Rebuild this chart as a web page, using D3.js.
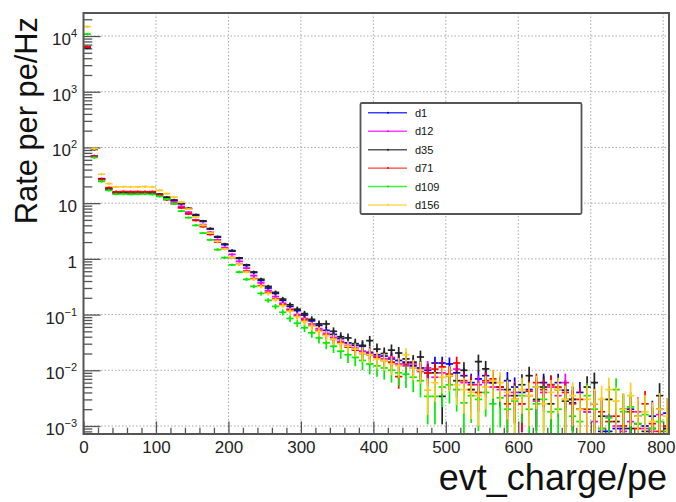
<!DOCTYPE html>
<html>
<head>
<meta charset="utf-8">
<script src="https://cdn.jsdelivr.net/npm/d3@7"></script>
<style>
  html, body { margin: 0; padding: 0; background: #fff; }
  svg { display: block; font-family: "Liberation Sans", Arial, Helvetica, sans-serif; }
</style>
</head>
<body>
<svg id="chart" width="676" height="502"></svg>
<script>
// Histogram binning of evt_charge (pe): 81 bins of 10 pe starting at 0
const binWidth = 10;
const binStarts = d3.range(0, 810, binWidth);

// Rate per pe per Hz, one value per bin
const d1 = [6200, 70, 27, 18, 15.3, 15.2, 15.4, 15.3, 15.1, 15.3,
  14.3, 12.5, 11.2, 9.8, 7.9, 6.0, 4.7, 3.46, 2.45, 1.8,
  1.41, 1.02, 0.76, 0.57, 0.41, 0.30, 0.24, 0.18, 0.14, 0.118,
  0.098, 0.077, 0.064, 0.052, 0.044, 0.037, 0.031, 0.028, 0.027, 0.021,
  0.019, 0.018, 0.016, 0.015, 0.014, 0.012, 0.011, 0.010, 0.0135, 0.0135,
  0.013, 0.009, 0.008, 0.006, 0.007, 0.008, 0.006, 0.005, 0.0065, 0.005,
  0.004, 0.0045, 0.005, 0.006, 0.0055, 0.006, 0.0044, 0.0026, 0.004, 0.0018,
  0.0025, 0.0008, 0.0008, 0.0009, 0.0009, 0.002, 0.0015, 0.001, 0.0015, 0.002, 0.0017];

const d12 = [6300, 70, 27.5, 18.5, 16, 15.8, 16.1, 15.9, 16, 15.8,
  14.0, 12.0, 10.5, 8.8, 6.9, 5.0, 4.1, 3.0, 2.2, 1.6,
  1.2, 0.9, 0.68, 0.5, 0.37, 0.27, 0.21, 0.16, 0.125, 0.1,
  0.085, 0.068, 0.056, 0.046, 0.039, 0.033, 0.028, 0.025, 0.022, 0.02,
  0.018, 0.016, 0.017, 0.013, 0.012, 0.013, 0.0095, 0.011, 0.0075, 0.009,
  0.0085, 0.0105, 0.006, 0.0045, 0.0055, 0.006, 0.005, 0.0045, 0.0035, 0.004,
  0.0025, 0.0035, 0.0028, 0.004, 0.005, 0.0035, 0.006, 0.003, 0.002, 0.0018,
  0.0012, 0.0009, 0.0015, 0.001, 0.0008, 0.0012, 0.0018, 0.0009, 0.0008, 0.0016, 0.0009];

const d35 = [6100, 92, 27, 18, 15.1, 15.3, 15.2, 15.0, 15.3, 15.2,
  14.5, 12.8, 11.4, 9.9, 8.1, 6.2, 4.8, 3.5, 2.5, 1.85,
  1.38, 1.04, 0.78, 0.58, 0.43, 0.32, 0.25, 0.19, 0.15, 0.125,
  0.104, 0.082, 0.068, 0.068, 0.05, 0.04, 0.038, 0.03, 0.028, 0.034,
  0.024, 0.02, 0.023, 0.0204, 0.016, 0.014, 0.0173, 0.009, 0.009, 0.0034,
  0.008, 0.0065, 0.01, 0.0045, 0.0143, 0.0106, 0.006, 0.005, 0.0045, 0.0035,
  0.0055, 0.008, 0.003, 0.005, 0.0025, 0.0045, 0.0028, 0.003, 0.002, 0.005,
  0.006, 0.0015, 0.003, 0.0012, 0.002, 0.0009, 0.0011, 0.0008, 0.0009, 0.0035, 0.0009];

const d71 = [6400, 69, 26.5, 19, 16, 16.2, 15.9, 16.1, 16, 16.1,
  14.0, 11.5, 9.8, 8.2, 6.4, 4.9, 3.8, 2.75, 2.0, 1.5,
  1.05, 0.8, 0.6, 0.44, 0.33, 0.25, 0.19, 0.15, 0.12, 0.095,
  0.08, 0.063, 0.052, 0.043, 0.036, 0.031, 0.026, 0.023, 0.02, 0.019,
  0.017, 0.015, 0.014, 0.0077, 0.013, 0.011, 0.01, 0.009, 0.0105, 0.0115,
  0.0085, 0.0135, 0.0065, 0.0055, 0.004, 0.0065, 0.007, 0.005, 0.0025, 0.003,
  0.0025, 0.0042, 0.006, 0.0045, 0.0055, 0.005, 0.004, 0.0025, 0.003, 0.002,
  0.0025, 0.0018, 0.0012, 0.0015, 0.001, 0.0018, 0.0009, 0.0025, 0.0011, 0.0008, 0.001];

const d109 = [10800, 66, 24.5, 17, 14.5, 14.6, 14.4, 14.5, 14.6, 14.4,
  13.2, 11.8, 9.8, 7.2, 5.5, 4.0, 2.9, 2.2, 1.47, 1.05,
  0.78, 0.58, 0.43, 0.32, 0.24, 0.18, 0.14, 0.11, 0.085, 0.07,
  0.058, 0.047, 0.038, 0.031, 0.027, 0.022, 0.019, 0.017, 0.015, 0.013,
  0.012, 0.011, 0.01, 0.009, 0.0085, 0.0075, 0.0065, 0.0034, 0.0034, 0.005,
  0.0055, 0.0045, 0.0026, 0.0035, 0.003, 0.004, 0.0025, 0.0032, 0.002, 0.0028,
  0.0035, 0.002, 0.0025, 0.003, 0.0018, 0.002, 0.003, 0.0015, 0.0012, 0.0035,
  0.002, 0.0009, 0.0014, 0.0045, 0.0018, 0.0022, 0.0011, 0.0016, 0.0009, 0.0012, 0.0008];

const d156 = [14700, 95, 33, 22.5, 19.6, 19.7, 19.5, 19.6, 19.8, 19.5,
  17, 14.8, 12.8, 10.4, 7.8, 5.6, 4.0, 2.9, 2.05, 1.5,
  1.05, 0.8, 0.58, 0.43, 0.32, 0.24, 0.185, 0.145, 0.115, 0.092,
  0.075, 0.062, 0.05, 0.042, 0.036, 0.03, 0.027, 0.024, 0.02, 0.019,
  0.016, 0.015, 0.013, 0.012, 0.019, 0.011, 0.01, 0.0044, 0.006, 0.0075,
  0.008, 0.0055, 0.0045, 0.004, 0.0035, 0.005, 0.0065, 0.006, 0.004, 0.003,
  0.0045, 0.0035, 0.005, 0.0025, 0.004, 0.0045, 0.003, 0.0035, 0.002, 0.003,
  0.0025, 0.003, 0.0045, 0.0028, 0.002, 0.0035, 0.0015, 0.0018, 0.0012, 0.002, 0.0015];

const seriesNames = ["d1", "d12", "d35", "d71", "d109", "d156"];
const seriesValues = [d1, d12, d35, d71, d109, d156];
const seriesColors = ["#0000ff", "#ff00ff", "#222222", "#ff0000", "#00ee00", "#ffcc22"];
// rate carried by a single event in each sample (sets the Poisson error bars)
const rateUnit = [0.0012, 0.0012, 0.0016, 0.0012, 0.0016, 0.0018];

const xMajorTicks = [0, 100, 200, 300, 400, 500, 600, 700, 800];
const yMajorTicks = [1e-3, 1e-2, 1e-1, 1, 10, 1e2, 1e3, 1e4];
const yTickLabels = [["10", "\u22123"], ["10", "\u22122"], ["10", "\u22121"], ["1", ""], ["10", ""], ["10", "2"], ["10", "3"], ["10", "4"]];

const xTitle = "evt_charge/pe";
const yTitle = "Rate per pe/Hz";

const frame = { left: 83.5, right: 669, top: 13, bottom: 434 };

const svg = d3.select("#chart");
const x = d3.scaleLinear().domain([0, 808]).range([frame.left, frame.right]);
const y = d3.scaleLog().domain([7.18e-4, 2.59e4]).range([frame.bottom, frame.top]);
const [yMin, yMax] = y.domain();

svg.append("defs").append("clipPath").attr("id", "plotClip")
  .append("rect")
  .attr("x", frame.left).attr("y", frame.top)
  .attr("width", frame.right - frame.left).attr("height", frame.bottom - frame.top);

// dotted grid
const grid = svg.append("g").attr("stroke", "#a8a8a8").attr("stroke-width", 1)
  .attr("stroke-dasharray", "1.5,2");
grid.selectAll("line.gx").data(xMajorTicks.filter(v => v > 0)).join("line")
  .attr("x1", d => x(d)).attr("x2", d => x(d))
  .attr("y1", frame.top).attr("y2", frame.bottom);
grid.selectAll("line.gy").data(yMajorTicks).join("line")
  .attr("x1", frame.left).attr("x2", frame.right)
  .attr("y1", d => y(d)).attr("y2", d => y(d));

// minor tick positions
const yMinor = [];
for (let e = -4; e <= 4; e++) {
  for (let m = 2; m <= 9; m++) {
    const v = m * Math.pow(10, e);
    if (v > yMin && v < yMax) yMinor.push(v);
  }
}
const xMinor = d3.range(0, 809, 20).filter(v => v % 100 !== 0);

// axes with ticks drawn inward
const xAxis = svg.append("g").attr("transform", `translate(0,${frame.bottom})`)
  .call(d3.axisBottom(x).tickValues(xMajorTicks).tickSizeInner(-12.6).tickSizeOuter(0).tickFormat(d3.format("d")));
const xAxisMinor = svg.append("g").attr("transform", `translate(0,${frame.bottom})`)
  .call(d3.axisBottom(x).tickValues(xMinor).tickSizeInner(-6.3).tickSizeOuter(0).tickFormat(""));
const yAxis = svg.append("g").attr("transform", `translate(${frame.left},0)`)
  .call(d3.axisLeft(y).tickValues(yMajorTicks).tickSizeInner(-17).tickSizeOuter(0).tickFormat(""));
const yAxisMinor = svg.append("g").attr("transform", `translate(${frame.left},0)`)
  .call(d3.axisLeft(y).tickValues(yMinor).tickSizeInner(-8.8).tickSizeOuter(0).tickFormat(""));

[xAxis, xAxisMinor, yAxis, yAxisMinor].forEach(g => {
  g.select(".domain").remove();
  g.selectAll(".tick line").attr("stroke", "#555").attr("stroke-width", 1.3);
});

xAxis.selectAll(".tick text")
  .attr("font-size", 17).attr("fill", "#222").attr("dy", 0)
  .attr("y", 18.5);
// the last label sits against the window edge
xAxis.selectAll(".tick text").filter(d => d === 800)
  .attr("text-anchor", "end").attr("x", 675 - x(800));

// y labels of the form 10^n
yAxis.selectAll(".tick").each(function (d, i) {
  const [base, exp] = yTickLabels[i];
  const t = d3.select(this).append("text")
    .attr("x", -6.5).attr("y", 0).attr("dy", 8.5)
    .attr("text-anchor", "end").attr("fill", "#222")
    .attr("font-size", 17);
  t.append("tspan").text(base);
  if (exp) {
    t.append("tspan").attr("font-size", 11).attr("dy", -8).text(exp);
  }
});

// histogram points with error bars
const marks = svg.append("g").attr("clip-path", "url(#plotClip)");
seriesValues.forEach((vals, s) => {
  const color = seriesColors[s];
  const unit = rateUnit[s];
  const pts = vals.map((v, i) => {
    const err = Math.sqrt(v * unit);
    return { x0: binStarts[i], x1: binStarts[i] + binWidth, xc: binStarts[i] + binWidth / 2, v, lo: Math.max(v - err, yMin * 0.5), hi: v + err };
  });
  const g = marks.append("g").attr("stroke", color).attr("stroke-width", 1.7).attr("fill", color);
  g.selectAll("line.h").data(pts).join("line").attr("class", "h")
    .attr("x1", d => x(d.x0)).attr("x2", d => x(d.x1))
    .attr("y1", d => y(Math.max(d.v, yMin * 0.9))).attr("y2", d => y(Math.max(d.v, yMin * 0.9)));
  g.selectAll("line.v").data(pts).join("line").attr("class", "v")
    .attr("x1", d => x(d.xc)).attr("x2", d => x(d.xc))
    .attr("y1", d => y(d.hi)).attr("y2", d => y(d.lo));
  g.selectAll("circle").data(pts).join("circle")
    .attr("cx", d => x(d.xc)).attr("cy", d => y(Math.max(d.v, yMin * 0.9)))
    .attr("r", 1.2).attr("stroke", "none");
});

// frame
svg.append("rect")
  .attr("x", frame.left).attr("y", frame.top)
  .attr("width", frame.right - frame.left).attr("height", frame.bottom - frame.top)
  .attr("fill", "none").attr("stroke", "#555").attr("stroke-width", 2);

// axis titles
svg.append("text")
  .attr("x", 667).attr("y", 490).attr("text-anchor", "end")
  .attr("font-size", 36).attr("fill", "#111").text(xTitle);
svg.append("text")
  .attr("transform", "translate(37,17) rotate(-90)")
  .attr("text-anchor", "end")
  .attr("font-size", 30.8).attr("fill", "#111").text(yTitle);

// legend
const legend = svg.append("g");
legend.append("rect")
  .attr("x", 360.5).attr("y", 103).attr("width", 221).attr("height", 111)
  .attr("rx", 1.5)
  .attr("fill", "#fff").attr("stroke", "#555").attr("stroke-width", 1.8);
const legendRow = d3.scalePoint().domain(seriesNames).range([112.8, 205]);
seriesNames.forEach((name, i) => {
  const ly = legendRow(name);
  legend.append("line")
    .attr("x1", 368).attr("x2", 407).attr("y1", ly).attr("y2", ly)
    .attr("stroke", seriesColors[i]).attr("stroke-width", 1.4).attr("opacity", 0.75);
  legend.append("circle").attr("cx", 388).attr("cy", ly).attr("r", 1).attr("fill", seriesColors[i]);
  legend.append("text")
    .attr("x", 415).attr("y", ly + 4).attr("font-size", 11).attr("fill", "#111")
    .text(name);
});
</script>
</body>
</html>
